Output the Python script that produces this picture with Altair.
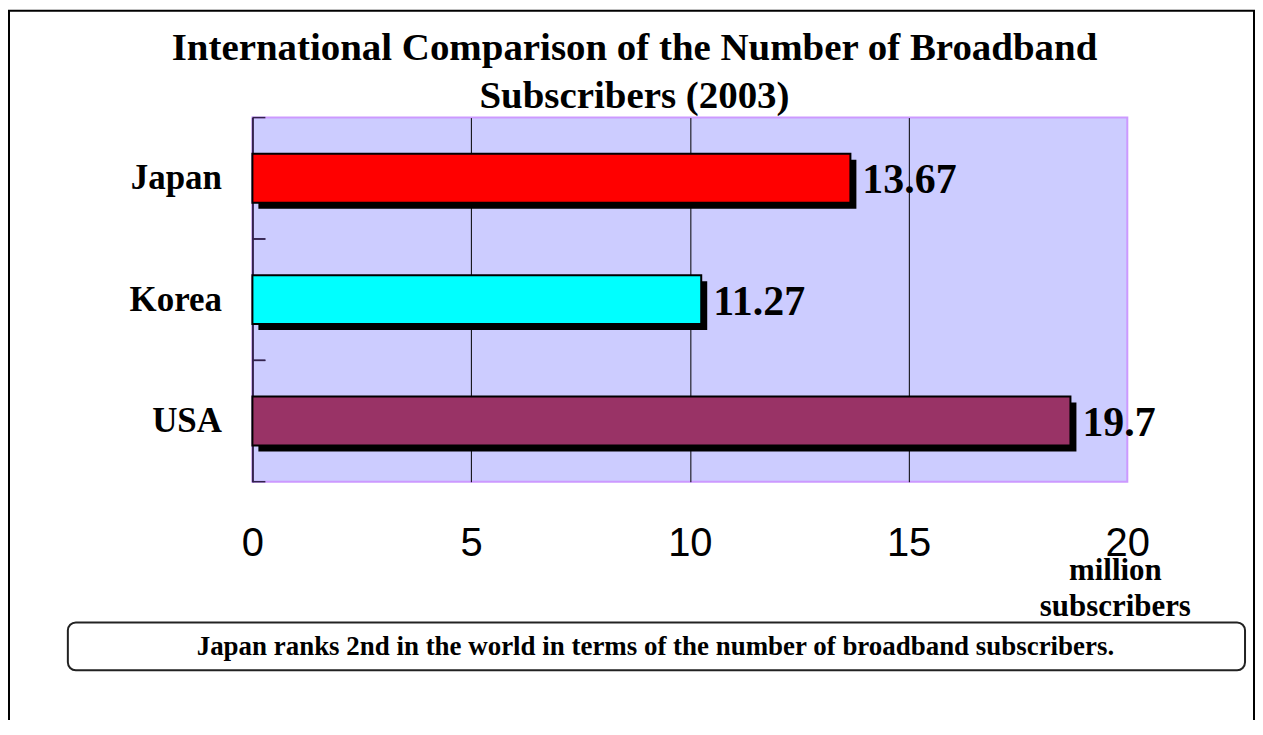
import altair as alt
import pandas as pd

countries = ["Japan", "Korea", "USA"]
values = [13.67, 10.26, 18.7]
value_labels = ["13.67", "11.27", "19.7"]
bar_colors = ["#FF0000", "#00FFFF", "#993366"]
x_ticks = [0, 5, 10, 15, 20]
title_lines = ["International Comparison of the Number of Broadband", "Subscribers (2003)"]
unit_lines = ["million", "subscribers"]
footnote = "Japan ranks 2nd in the world in terms of the number of broadband subscribers."

df = pd.DataFrame({"country": countries, "value": values, "label": value_labels, "color": bar_colors})

W, H = 877, 365
serif = "Liberation Serif"
sans = "Liberation Sans"


def yenc(band_pos=None):
    kw = {}
    if band_pos is not None:
        kw["bandPosition"] = band_pos
    return alt.Y(
        "country:N",
        sort=countries,
        scale=alt.Scale(type="band", paddingInner=0, paddingOuter=0),
        axis=alt.Axis(
            title=None, labelFont=serif, labelFontSize=35, labelFontWeight="bold",
            labelColor="black", labelPadding=31, ticks=False, tickSize=0,
            domain=True, domainColor="#33224d", domainWidth=2,
        ),
        **kw,
    )


xenc = alt.X(
    "value:Q",
    scale=alt.Scale(domain=[0, 20], nice=False, zero=True),
    axis=alt.Axis(
        values=x_ticks, title=None, labelFont=sans, labelFontSize=40, labelColor="black",
        labelPadding=42, ticks=False, tickSize=0, domain=False, labelFlush=False,
        labelOverlap=False, grid=True, gridWidth=1,
        gridColor={"condition": {"test": "datum.value === 0 || datum.value === 20", "value": "transparent"},
                   "value": "black"},
    ),
)

base = alt.Chart(df)

shadow = base.mark_bar(color="black", size=49, xOffset=6, yOffset=6).encode(x=xenc, y=yenc())
bars = base.mark_bar(size=49, stroke="black", strokeWidth=2).encode(
    x=xenc, y=yenc(), color=alt.Color("color:N", scale=None)
)
labels = base.mark_text(
    align="left", baseline="middle", dx=12, dy=2, font=serif, fontSize=42,
    fontWeight="bold", color="black",
).encode(x=xenc, y=yenc(), text="label:N")

ticks_top = base.mark_rule(color="#33224d", strokeWidth=1.5).encode(
    y=yenc(0), x=alt.value(0), x2=alt.value(13)
)
ticks_bot = base.mark_rule(color="#33224d", strokeWidth=1.5).encode(
    y=yenc(1), x=alt.value(0), x2=alt.value(13)
)


def text_layer(txt, x, y, size, align="center"):
    d = pd.DataFrame({"t": [txt]})
    return alt.Chart(d).mark_text(
        font=serif, fontSize=size, fontWeight="bold", color="black", align=align, baseline="middle"
    ).encode(x=alt.value(x), y=alt.value(y), text="t:N")


title1 = text_layer(title_lines[0], 383, -70, 39)
title2 = text_layer(title_lines[1], 383, -22, 39)
unit1 = text_layer(unit_lines[0], 865, 455, 31)
unit2 = text_layer(unit_lines[1], 865, 491, 31)

note_df = pd.DataFrame({"t": [footnote]})
note_box = alt.Chart(note_df).mark_rect(
    fill="white", stroke="#222222", strokeWidth=2, cornerRadius=8
).encode(x=alt.value(-185), x2=alt.value(995), y=alt.value(506), y2=alt.value(554))
note = text_layer(footnote, 404, 531, 27)

frame = alt.Chart(note_df).mark_rect(
    fillOpacity=0, stroke="black", strokeWidth=2
).encode(x=alt.value(-244), x2=alt.value(1004), y=alt.value(-107), y2=alt.value(720))

chart = alt.layer(
    shadow, bars, labels, ticks_top, ticks_bot, title1, title2, unit1, unit2, note_box, note, frame
).properties(
    width=W, height=H,
    autosize=alt.AutoSizeParams(type="none"),
    padding={"left": 245, "top": 109, "right": 128, "bottom": 238},
).configure_view(
    fill="#CCCCFF", stroke="#CC99FF", strokeWidth=2
)

chart.save("out.html", embed_options={"renderer": "svg", "actions": False})
